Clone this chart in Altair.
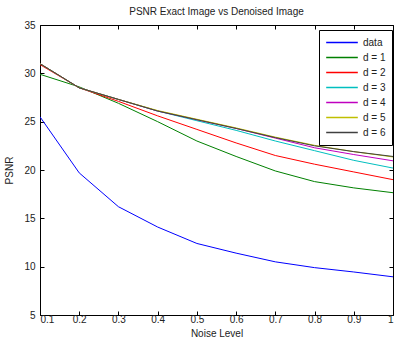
import altair as alt
import pandas as pd

noise = [0.1, 0.2, 0.3, 0.4, 0.5, 0.6, 0.7, 0.8, 0.9, 1.0]
series_names = ["data", "d = 1", "d = 2", "d = 3", "d = 4", "d = 5", "d = 6"]
series_colors = ["#0000FF", "#008000", "#FF0000", "#00BFBF", "#BF00BF", "#BFBF00", "#404040"]

psnr_data = [25.5, 19.7, 16.2, 14.1, 12.4, 11.4, 10.5, 9.9, 9.45, 8.95]
psnr_d1 = [29.9, 28.6, 26.9, 25.0, 23.0, 21.4, 19.9, 18.8, 18.15, 17.65]
psnr_d2 = [30.9, 28.5, 27.1, 25.6, 24.2, 22.8, 21.5, 20.6, 19.8, 19.0]
psnr_d3 = [31.0, 28.5, 27.3, 26.1, 25.1, 24.1, 23.0, 22.0, 21.0, 20.2]
psnr_d4 = [31.0, 28.5, 27.3, 26.1, 25.2, 24.3, 23.3, 22.3, 21.6, 20.95]
psnr_d5 = [31.0, 28.5, 27.3, 26.15, 25.25, 24.35, 23.4, 22.55, 21.9, 21.35]
psnr_d6 = [31.0, 28.5, 27.3, 26.1, 25.2, 24.3, 23.35, 22.5, 21.9, 21.4]

x_ticks = [0.1, 0.2, 0.3, 0.4, 0.5, 0.6, 0.7, 0.8, 0.9, 1.0]
y_ticks = [5, 10, 15, 20, 25, 30, 35]

all_series = [psnr_data, psnr_d1, psnr_d2, psnr_d3, psnr_d4, psnr_d5, psnr_d6]
rows = []
for order, (name, vals) in enumerate(zip(series_names, all_series)):
    for x, v in zip(noise, vals):
        rows.append({"noise": x, "psnr": v, "series": name, "order": order})
df = pd.DataFrame(rows)

W, H = 353, 290
font = "Liberation Sans"

chart = alt.Chart(df).mark_line(strokeWidth=1, clip=True).encode(
    x=alt.X("noise:Q", scale=alt.Scale(domain=[0.1, 1.0], nice=False, zero=False),
            axis=alt.Axis(title="Noise Level", values=x_ticks, format="~g",
                          grid=True, gridDash=[4, H - 8], gridColor="#000", gridOpacity=1,
                          gridWidth=1, ticks=False, tickSize=0, domain=False,
                          labelPadding=-1, titlePadding=4)),
    y=alt.Y("psnr:Q", scale=alt.Scale(domain=[5, 35], nice=False, zero=False),
            axis=alt.Axis(title="PSNR", values=y_ticks,
                          grid=True, gridDash=[4, W - 8], gridColor="#000", gridOpacity=1,
                          gridWidth=1, ticks=False, tickSize=0, domain=False,
                          labelPadding=5, titlePadding=9)),
    color=alt.Color("series:N", sort=series_names,
                    scale=alt.Scale(domain=series_names, range=series_colors),
                    legend=alt.Legend(title=None, orient="none", legendX=279, legendY=5,
                                      symbolType="stroke", symbolSize=1000, symbolStrokeWidth=1.5,
                                      labelFontSize=10, labelFont=font, labelColor="#222",
                                      strokeColor="#000", fillColor="#fff", padding=6,
                                      clipHeight=13, rowPadding=2, symbolOffset=0)),
    order=alt.Order("order:Q"),
    detail="series:N",
).properties(
    width=W, height=H,
    background="#fff",
    title=alt.TitleParams("PSNR Exact Image vs Denoised Image", fontSize=10, font=font,
                          fontWeight="normal", color="#222", offset=3),
    autosize=alt.AutoSizeParams(type="none"),
    padding={"left": 40, "top": 25, "right": 3, "bottom": 26},
).configure_view(
    stroke="#000", strokeWidth=1
).configure_axis(
    labelFont=font, titleFont=font, labelFontSize=10, titleFontSize=10,
    labelColor="#222", titleColor="#222", titleFontWeight="normal"
)

chart.save("out.html", embed_options={"renderer": "svg", "actions": False})
